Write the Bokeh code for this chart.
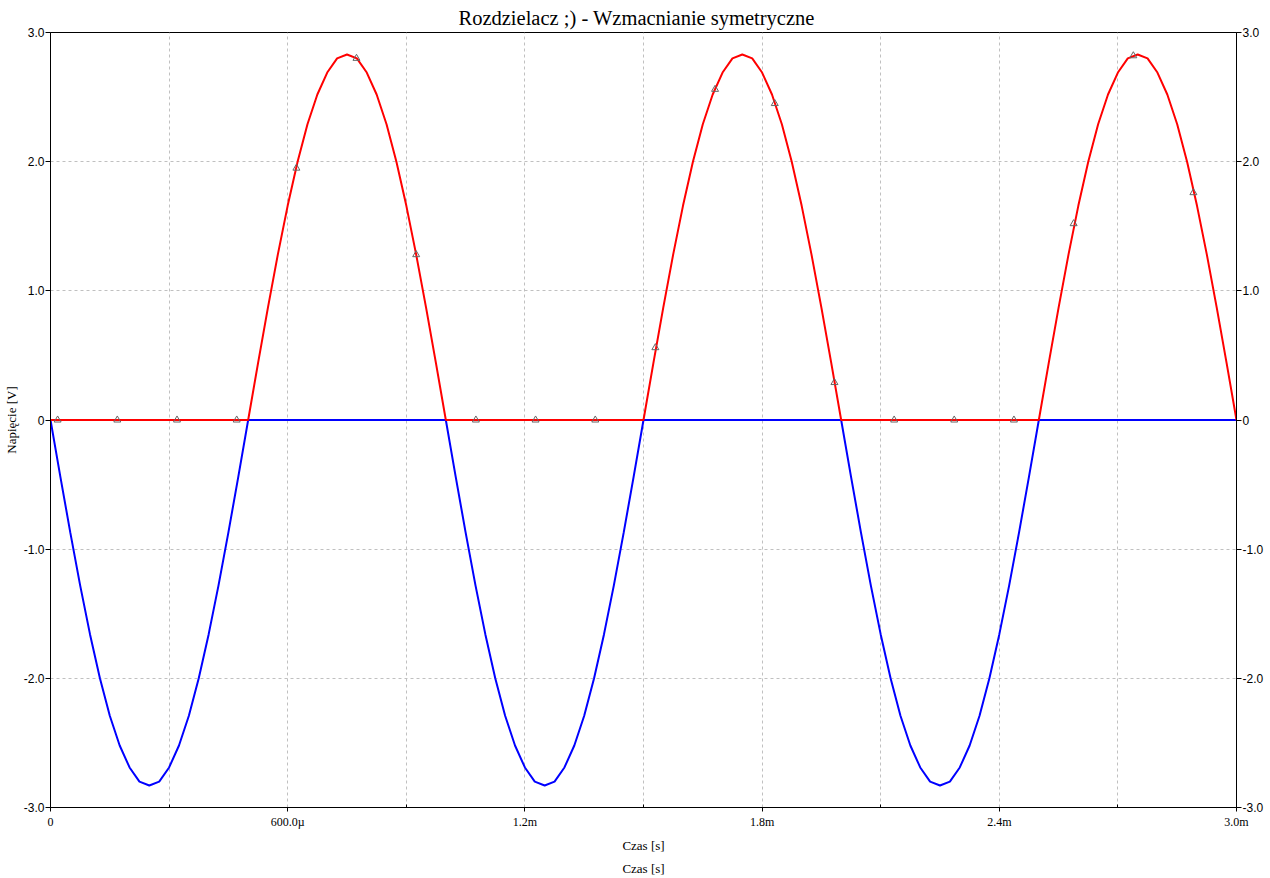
from bokeh.plotting import figure
from bokeh.models import LinearAxis, FixedTicker, Range1d, Title
from bokeh.embed import file_html
from bokeh.resources import INLINE

# time in microseconds (25 us step, 0 .. 3000 us)
time_us = [i * 25 for i in range(121)]

# blue trace: negative half-waves [V]
blue_v = [0, -0.44, -0.87, -1.28, -1.66, -2.00, -2.29, -2.52, -2.69, -2.80,
          -2.83, -2.80, -2.69, -2.52, -2.29, -2.00, -1.66, -1.28, -0.87, -0.44, 0,
          0, 0, 0, 0, 0, 0, 0, 0, 0, 0, 0, 0, 0, 0, 0, 0, 0, 0, 0,
          0, -0.44, -0.87, -1.28, -1.66, -2.00, -2.29, -2.52, -2.69, -2.80,
          -2.83, -2.80, -2.69, -2.52, -2.29, -2.00, -1.66, -1.28, -0.87, -0.44, 0,
          0, 0, 0, 0, 0, 0, 0, 0, 0, 0, 0, 0, 0, 0, 0, 0, 0, 0, 0,
          0, -0.44, -0.87, -1.28, -1.66, -2.00, -2.29, -2.52, -2.69, -2.80,
          -2.83, -2.80, -2.69, -2.52, -2.29, -2.00, -1.66, -1.28, -0.87, -0.44, 0,
          0, 0, 0, 0, 0, 0, 0, 0, 0, 0, 0, 0, 0, 0, 0, 0, 0, 0, 0, 0]

# red trace: positive half-waves [V]
red_v = [0, 0, 0, 0, 0, 0, 0, 0, 0, 0, 0, 0, 0, 0, 0, 0, 0, 0, 0, 0,
         0, 0.44, 0.87, 1.28, 1.66, 2.00, 2.29, 2.52, 2.69, 2.80,
         2.83, 2.80, 2.69, 2.52, 2.29, 2.00, 1.66, 1.28, 0.87, 0.44, 0,
         0, 0, 0, 0, 0, 0, 0, 0, 0, 0, 0, 0, 0, 0, 0, 0, 0, 0, 0,
         0, 0.44, 0.87, 1.28, 1.66, 2.00, 2.29, 2.52, 2.69, 2.80,
         2.83, 2.80, 2.69, 2.52, 2.29, 2.00, 1.66, 1.28, 0.87, 0.44, 0,
         0, 0, 0, 0, 0, 0, 0, 0, 0, 0, 0, 0, 0, 0, 0, 0, 0, 0, 0,
         0, 0.44, 0.87, 1.28, 1.66, 2.00, 2.29, 2.52, 2.69, 2.80,
         2.83, 2.80, 2.69, 2.52, 2.29, 2.00, 1.66, 1.28, 0.87, 0.44, 0]

# triangle markers on the red trace
marker_t = [18, 169, 320, 471, 622, 774, 925, 1076, 1227, 1378,
            1530, 1681, 1832, 1983, 2134, 2286, 2437, 2588, 2739, 2891]
marker_v = [0, 0, 0, 0, 1.95, 2.80, 1.28, 0, 0, 0,
            0.56, 2.56, 2.45, 0.29, 0, 0, 0, 1.52, 2.82, 1.76]

x_major = [0, 600, 1200, 1800, 2400, 3000]
x_minor = [300, 900, 1500, 2100, 2700]
x_labels = {0: "0", 600: "600.0\u00b5", 1200: "1.2m", 1800: "1.8m", 2400: "2.4m", 3000: "3.0m"}
y_major = [-3, -2, -1, 0, 1, 2, 3]
y_labels = {3: "3.0", 2: "2.0", 1: "1.0", 0: "0", -1: "-1.0", -2: "-2.0", -3: "-3.0"}

title_text = "Rozdzielacz ;) - Wzmacnianie symetryczne"
x_label = "Czas [s]"
y_label = "Napi\u0119cie [V]"

SERIF = "Liberation Serif"
SANS = "Liberation Sans"

p = figure(frame_width=1186, frame_height=775, output_backend="svg", toolbar_location=None,
           x_range=Range1d(0, 3000), y_range=Range1d(-3, 3),
           min_border_left=0, min_border_right=0, min_border_top=24, min_border_bottom=63,
           x_axis_location=None, y_axis_location=None)
p.background_fill_color = "white"
p.border_fill_color = "white"
p.outline_line_color = "black"
p.outline_line_width = 1

t = Title(text=title_text, align="left", text_font=SERIF, text_font_size="20.5px",
          text_font_style="normal", text_color="black", standoff=8, offset=408)
p.add_layout(t, "above")

def style_x(ax):
    ax.ticker = FixedTicker(ticks=x_major, minor_ticks=x_minor)
    ax.major_label_overrides = x_labels
    ax.major_label_text_font = SERIF
    ax.major_label_text_font_size = "12px"
    ax.major_label_text_color = "black"
    ax.major_label_standoff = 3
    ax.major_tick_out = 4
    ax.major_tick_in = 0
    ax.minor_tick_in = 3
    ax.minor_tick_out = 0
    ax.axis_line_color = "black"
    ax.major_tick_line_color = "black"
    ax.minor_tick_line_color = "black"
    ax.axis_label = x_label
    ax.axis_label_text_font = SERIF
    ax.axis_label_text_font_size = "13px"
    ax.axis_label_text_color = "black"
    ax.axis_label_text_font_style = "normal"
    ax.axis_label_standoff = 6

xa = LinearAxis()
style_x(xa)
p.add_layout(xa, "below")

xa2 = LinearAxis(ticker=FixedTicker(ticks=[]))
xa2.axis_line_color = None
xa2.major_tick_line_color = None
xa2.minor_tick_line_color = None
xa2.major_label_text_font_size = "0px"
xa2.major_tick_out = 0
xa2.major_tick_in = 0
xa2.minor_tick_out = 0
xa2.major_label_standoff = 0
xa2.axis_label = x_label
xa2.axis_label_text_font = SERIF
xa2.axis_label_text_font_size = "13px"
xa2.axis_label_text_color = "black"
xa2.axis_label_text_font_style = "normal"
xa2.axis_label_standoff = 5
p.add_layout(xa2, "below")

def style_y(ax, label):
    ax.ticker = FixedTicker(ticks=y_major, minor_ticks=[])
    ax.major_label_overrides = y_labels
    ax.major_label_text_font = SANS
    ax.major_label_text_font_size = "12px"
    ax.major_label_text_color = "black"
    ax.major_label_standoff = 1
    ax.major_tick_out = 5
    ax.major_tick_in = 0
    ax.minor_tick_line_color = None
    ax.axis_line_color = "black"
    ax.major_tick_line_color = "black"
    if label:
        ax.axis_label = y_label
        ax.axis_label_text_font = SERIF
        ax.axis_label_text_font_size = "13px"
        ax.axis_label_text_color = "black"
        ax.axis_label_text_font_style = "normal"
        ax.axis_label_standoff = 2

ya = LinearAxis()
style_y(ya, True)
p.add_layout(ya, "left")
ya2 = LinearAxis()
style_y(ya2, False)
p.add_layout(ya2, "right")

# grids
p.xgrid.ticker = FixedTicker(ticks=x_major, minor_ticks=x_minor)
p.xgrid.grid_line_color = "#C0C0C0"
p.xgrid.grid_line_dash = "3 3"
p.xgrid.minor_grid_line_color = "#C0C0C0"
p.xgrid.minor_grid_line_dash = "3 3"
p.ygrid.ticker = FixedTicker(ticks=y_major)
p.ygrid.grid_line_color = "#C0C0C0"
p.ygrid.grid_line_dash = "3 3"

p.line(time_us, blue_v, line_color="#0000FF", line_width=2)
p.line(time_us, red_v, line_color="#FF0000", line_width=2)
p.scatter(marker_t, marker_v, marker="triangle", size=7, fill_color=None,
          line_color="#666666", line_width=1)

open("out.html", "w").write(file_html(p, INLINE))
